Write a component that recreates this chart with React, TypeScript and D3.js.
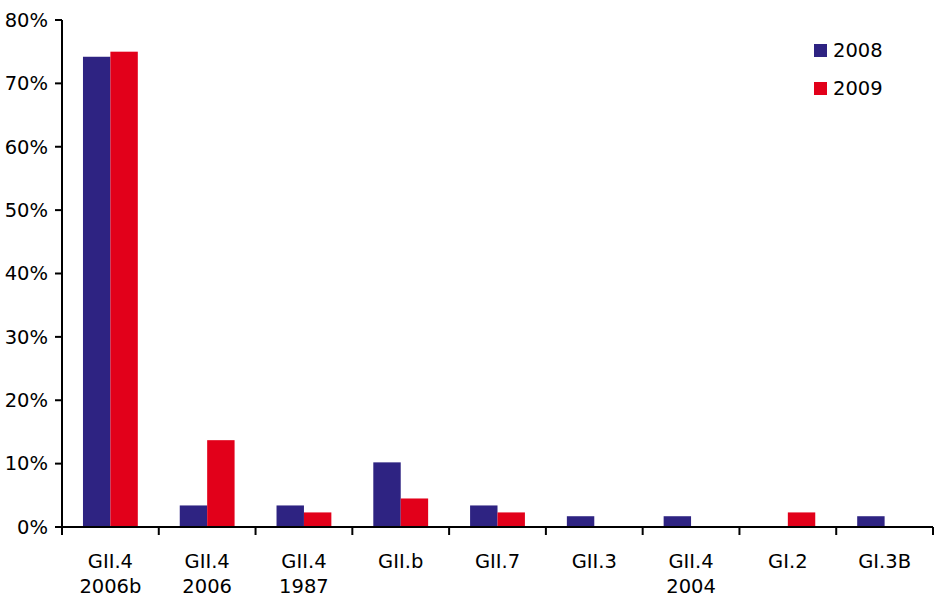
import React from "react";
import * as d3 from "d3";

const categories = [
  ["GII.4", "2006b"],
  ["GII.4", "2006"],
  ["GII.4", "1987"],
  ["GII.b"],
  ["GII.7"],
  ["GII.3"],
  ["GII.4", "2004"],
  ["GI.2"],
  ["GI.3B"],
];
const series = ["2008", "2009"];
const values2008 = [74.2, 3.4, 3.4, 10.2, 3.4, 1.7, 1.7, 0, 1.7];
const values2009 = [75.0, 13.7, 2.3, 4.5, 2.3, 0, 0, 2.3, 0];
const yTicks = [0, 10, 20, 30, 40, 50, 60, 70, 80];
const colors = ["#2E2382", "#E2001A"];

const W = 941;
const H = 598;
const FONT = "'DejaVu Sans', Verdana, sans-serif";

export default function App() {
  const left = 62;
  const right = 933;
  const top = 20;
  const bottom = 527;

  const x = d3
    .scaleBand<number>()
    .domain(categories.map((_, i) => i))
    .range([left, right])
    .paddingInner(0)
    .paddingOuter(0);
  const xs = d3
    .scaleBand<string>()
    .domain(series)
    .range([0, x.bandwidth()])
    .paddingInner(0)
    .paddingOuter(0.765);
  const y = d3.scaleLinear().domain([0, 80]).range([bottom, top]);

  const data = [values2008, values2009];

  return (
    <svg
      width={W}
      height={H}
      style={{ position: "absolute", left: 0, top: 0, background: "#fff" }}
      fontFamily={FONT}
    >
      {/* bars */}
      {data.map((vals, si) =>
        vals.map((v, ci) =>
          v > 0 ? (
            <rect
              key={`${si}-${ci}`}
              x={(x(ci) as number) + (xs(series[si]) as number)}
              y={y(v)}
              width={xs.bandwidth()}
              height={bottom - y(v)}
              fill={colors[si]}
            />
          ) : null
        )
      )}
      {/* y axis */}
      <line x1={left} x2={left} y1={top} y2={bottom} stroke="#000" strokeWidth={2} />
      {yTicks.map((t) => (
        <g key={t}>
          <line x1={left - 7} x2={left} y1={y(t)} y2={y(t)} stroke="#000" strokeWidth={2} />
          <text
            x={48}
            y={y(t)}
            dy="0.35em"
            textAnchor="end"
            fontSize={19.5}
            fill="#000"
          >
            {d3.format("d")(t) + "%"}
          </text>
        </g>
      ))}
      {/* x axis */}
      <line x1={left} x2={right} y1={bottom} y2={bottom} stroke="#000" strokeWidth={2} />
      {categories.map((_, i) => (
        <line
          key={i}
          x1={(x(i) as number) + x.bandwidth()}
          x2={(x(i) as number) + x.bandwidth()}
          y1={bottom}
          y2={bottom + 8}
          stroke="#000"
          strokeWidth={2}
        />
      ))}
      <line x1={left} x2={left} y1={bottom} y2={bottom + 8} stroke="#000" strokeWidth={2} />
      {categories.map((lines, i) => (
        <text
          key={i}
          x={(x(i) as number) + x.bandwidth() / 2}
          y={568}
          textAnchor="middle"
          fontSize={19.5}
          fill="#000"
        >
          {lines.map((l, j) => (
            <tspan key={j} x={(x(i) as number) + x.bandwidth() / 2} dy={j === 0 ? 0 : 25}>
              {l}
            </tspan>
          ))}
        </text>
      ))}
      {/* legend */}
      {series.map((s, i) => (
        <g key={s} transform={`translate(814, ${44 + i * 38})`}>
          <rect x={0} y={0} width={13} height={13} fill={colors[i]} />
          <text x={19} y={13} fontSize={19.5} fill="#000">
            {s}
          </text>
        </g>
      ))}
    </svg>
  );
}
